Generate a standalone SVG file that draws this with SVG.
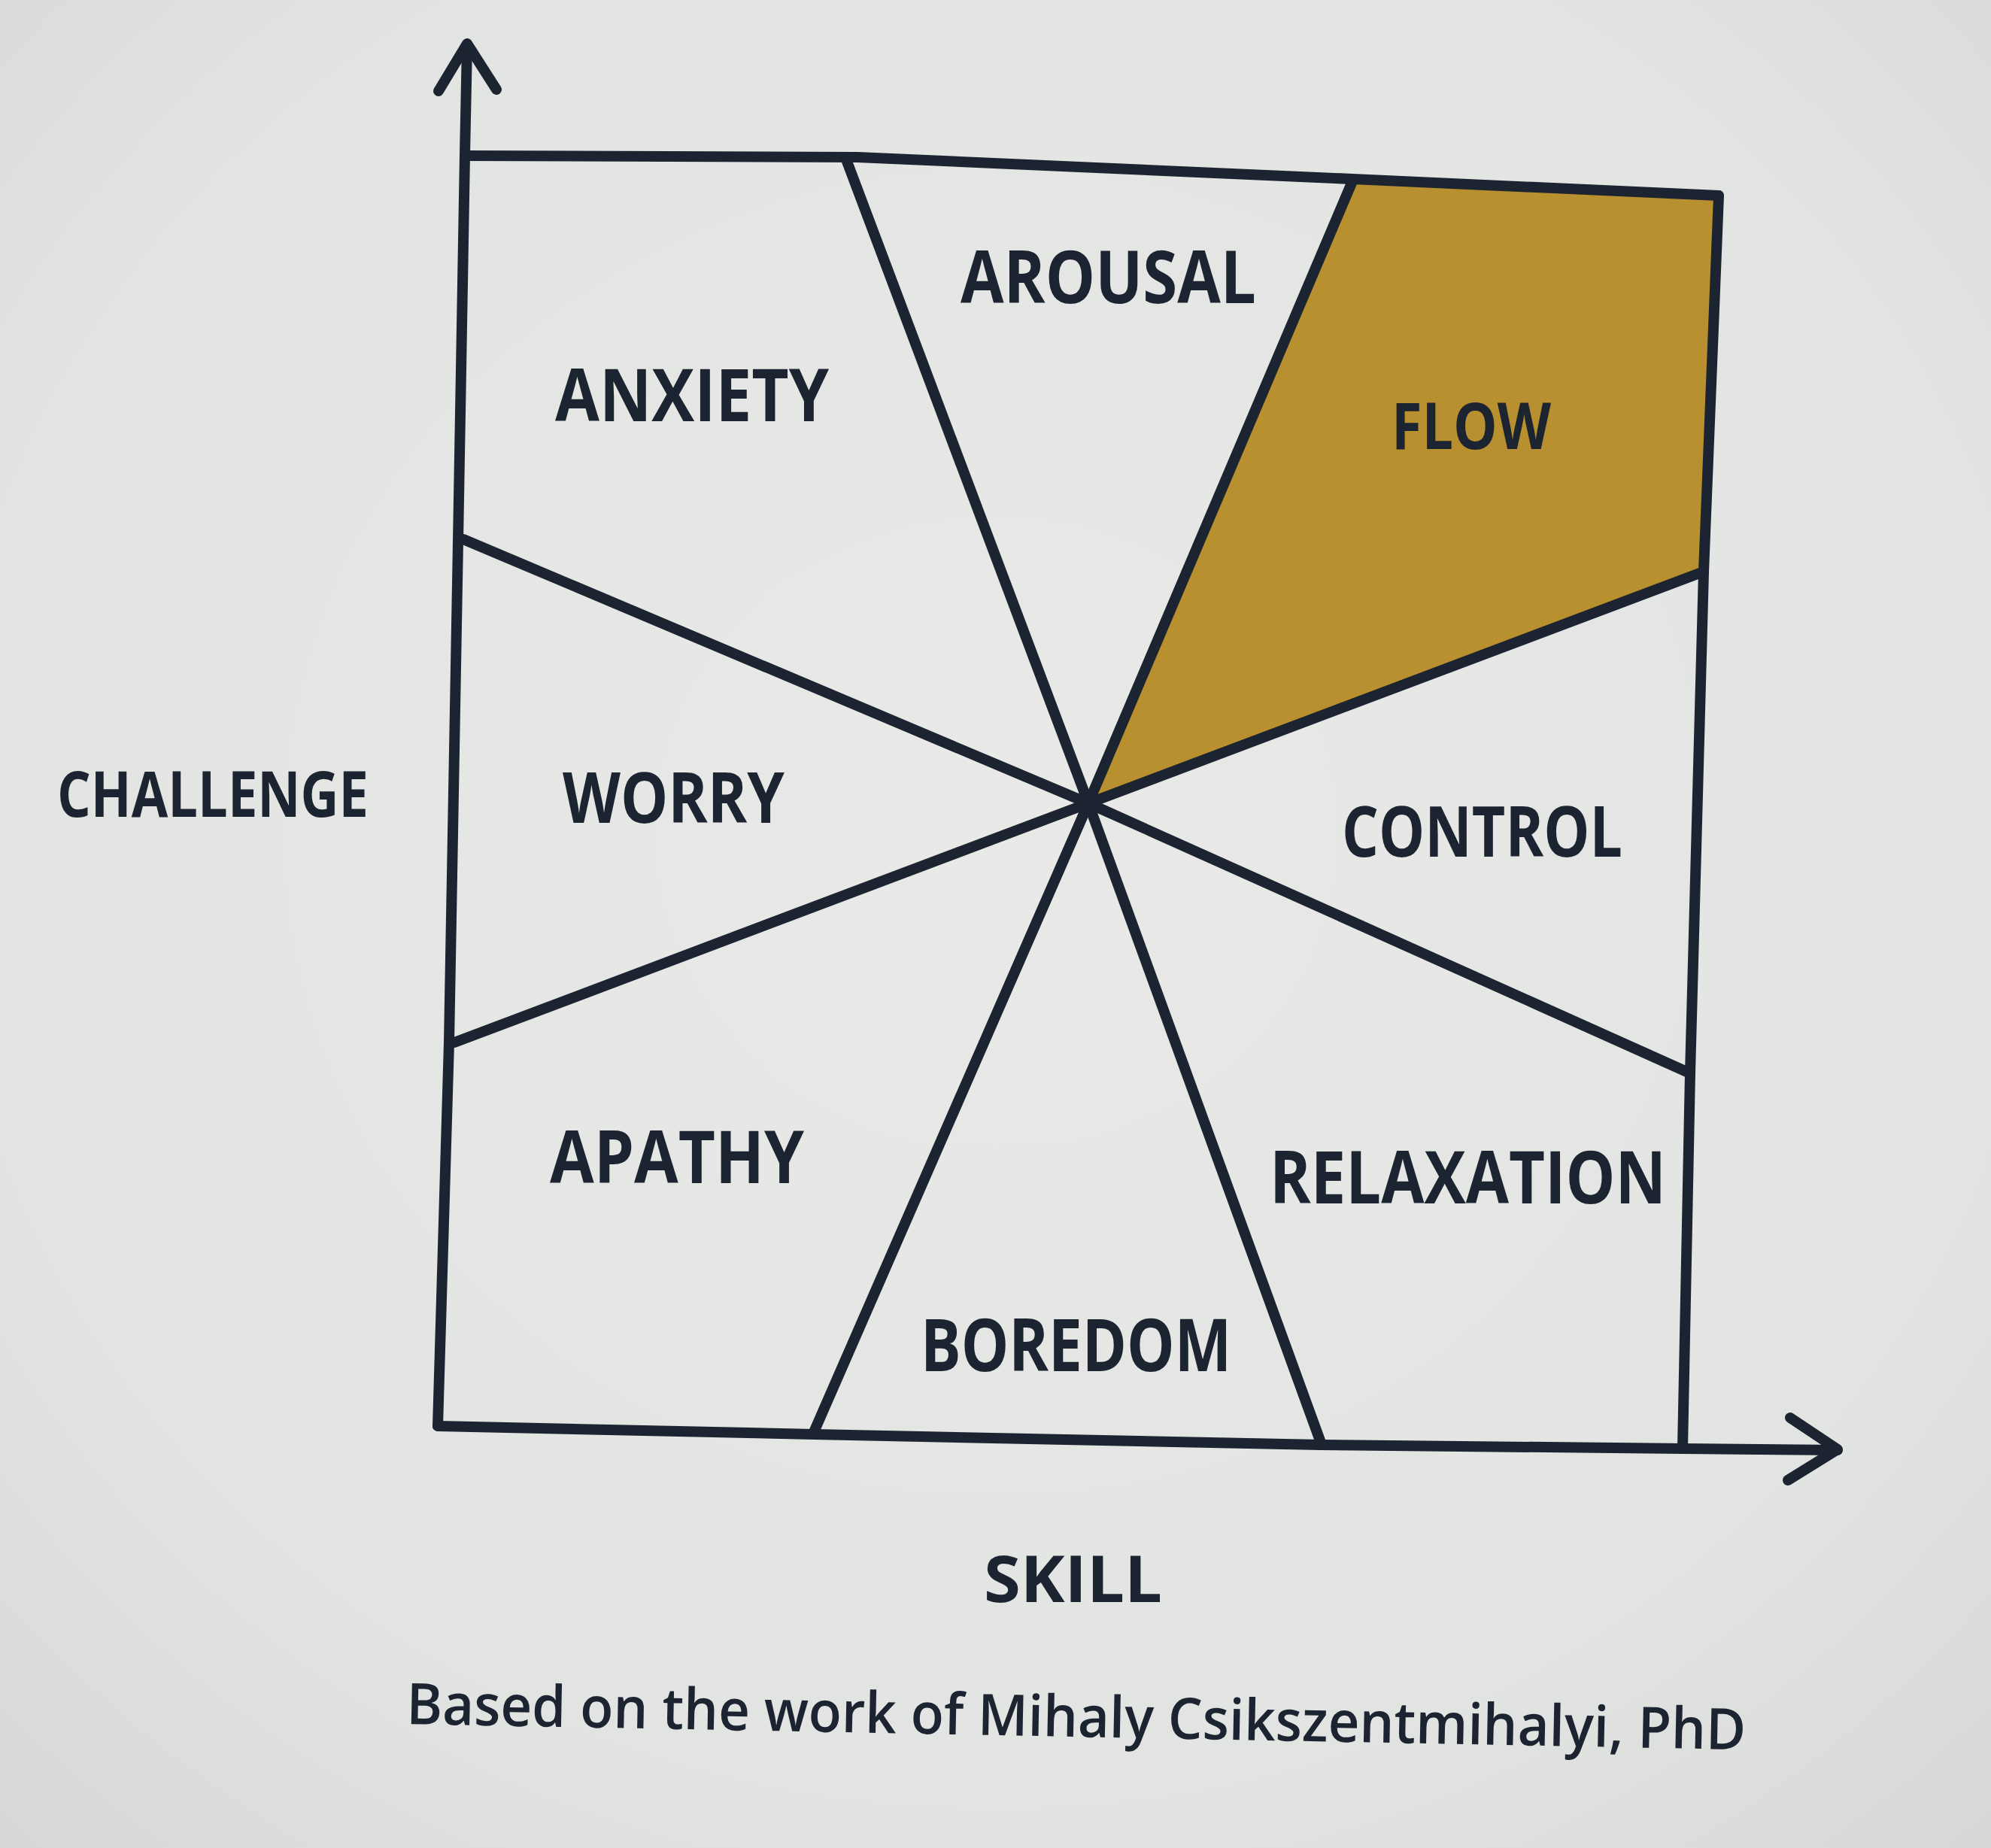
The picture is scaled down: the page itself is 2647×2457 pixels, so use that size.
<svg xmlns="http://www.w3.org/2000/svg" width="2647" height="2457" viewBox="0 0 2647 2457">
  <defs>
    <radialGradient id="paper" cx="0.5" cy="0.45" r="0.75">
      <stop offset="0" stop-color="#e9eae7"/>
      <stop offset="0.7" stop-color="#e2e4e1"/>
      <stop offset="1" stop-color="#d6d8d5"/>
    </radialGradient>
    <style>
      .ink { fill: none; stroke: #1b2430; stroke-width: 14; stroke-linecap: round; stroke-linejoin: round; }
      .label { font-family: "Open Sans", "Liberation Sans", sans-serif; font-weight: 700; fill: #1b2430; }
      .caption { font-family: "Open Sans", "Liberation Sans", sans-serif; font-weight: 600; fill: #1b2430; }
    </style>
  </defs>

  <!-- paper -->
  <rect x="0" y="0" width="2647" height="2457" fill="url(#paper)"/>

  <!-- highlighted flow wedge -->
  <g id="flow-region">
    <polygon points="1798,240 2285,261 2265,760 1447,1068" fill="#b8902f"/>
  </g>

  <!-- axes, frame and dividing lines -->
  <g id="connectors">
    <path class="ink" d="M621,60 L618,206 L609,720 L597,1386 L582,1896"/>
    <path class="ink" d="M583,121 L621,58 L660,119"/>
    <path class="ink" d="M618,207 L1140,209 L1798,238 L2285,260"/>
    <path class="ink" d="M2285,260 L2265,760 L2247,1427 L2237,1926"/>
    <path class="ink" d="M582,1896 L1082,1907 L1756,1921 L2237,1926 L2443,1928"/>
    <path class="ink" d="M2380,1885 L2443,1927 L2377,1968"/>
    <path class="ink" d="M1125,212 L1447,1068 L1756,1918"/>
    <path class="ink" d="M1798,241 L1447,1068 L1082,1904"/>
    <path class="ink" d="M616,717 L1447,1068 L2247,1427"/>
    <path class="ink" d="M604,1386 L1447,1068 L2265,760"/>
  </g>

  <!-- zone labels -->
  <g id="arousal"><text class="label" x="1277" y="403" font-size="96" textLength="393" lengthAdjust="spacingAndGlyphs">AROUSAL</text></g>
  <g id="anxiety"><text class="label" x="738" y="560" font-size="96" textLength="364" lengthAdjust="spacingAndGlyphs">ANXIETY</text></g>
  <g id="flow"><text class="label" x="1850" y="597" font-size="86" textLength="212" lengthAdjust="spacingAndGlyphs">FLOW</text></g>
  <g id="worry"><text class="label" x="748" y="1094" font-size="94" textLength="295" lengthAdjust="spacingAndGlyphs">WORRY</text></g>
  <g id="control"><text class="label" x="1784" y="1139" font-size="94" textLength="373" lengthAdjust="spacingAndGlyphs">CONTROL</text></g>
  <g id="apathy"><text class="label" x="731" y="1573" font-size="96" textLength="338" lengthAdjust="spacingAndGlyphs">APATHY</text></g>
  <g id="relaxation"><text class="label" x="1688" y="1600" font-size="96" textLength="527" lengthAdjust="spacingAndGlyphs">RELAXATION</text></g>
  <g id="boredom"><text class="label" x="1224" y="1823" font-size="96" textLength="413" lengthAdjust="spacingAndGlyphs">BOREDOM</text></g>

  <!-- axis titles -->
  <g id="challenge"><text class="label" x="76" y="1086" font-size="84" textLength="414" lengthAdjust="spacingAndGlyphs">CHALLENGE</text></g>
  <g id="skill"><text class="label" x="1308" y="2130" font-size="86" textLength="237" lengthAdjust="spacingAndGlyphs">SKILL</text></g>

  <!-- attribution -->
  <g id="attribution">
    <text class="caption" x="540" y="2292" font-size="76" textLength="1781" lengthAdjust="spacingAndGlyphs" transform="rotate(1.1 540 2292)">Based on the work of Mihaly Csikszentmihalyi, PhD</text>
  </g>
</svg>
